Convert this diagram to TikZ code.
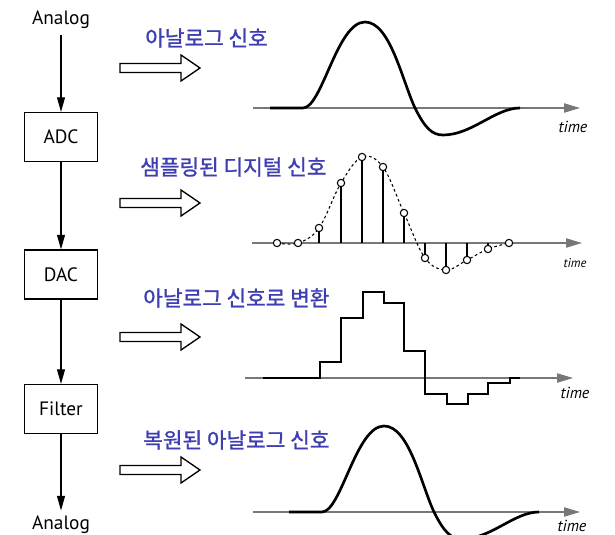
\documentclass[tikz,border=0pt]{standalone}
\usepackage{fontspec}
\setmainfont{PT Sans}
\newfontfamily\krfont{Noto Sans CJK KR}[FakeBold=1.2]
\definecolor{labelblue}{RGB}{62, 62, 178}
\definecolor{axisgray}{RGB}{120, 120, 120}
\usetikzlibrary{arrows.meta, positioning}
\tikzset{
    block/.style={
        rectangle, draw=black, line width=1.1pt,
        minimum width=54.75pt, minimum height=36.5pt,
        font=\fontsize{14.5}{16}\selectfont
    },
    io/.style={font=\fontsize{14.5}{16}\selectfont, inner sep=4pt},
    flow/.style={-{Triangle[length=11pt, width=6pt]}, line width=0.9pt},
    hollow/.style={draw=black, fill=white, line width=1pt, line join=miter},
    axis/.style={-{Triangle[length=12pt, width=7pt]}, draw=axisgray, line width=0.8pt},
    signal/.style={line width=2pt, line join=miter},
    stem/.style={line width=2pt},
    sampled/.style={line width=0.8pt, dash pattern=on 2pt off 2pt},
    dot/.style={circle, draw=black, fill=white, line width=0.8pt, inner sep=0pt, minimum size=5.5pt},
    lbl/.style={anchor=west, text=labelblue, font=\krfont\fontsize{16}{18}\selectfont, inner sep=0pt},
    tlbl/.style={font=\itshape\fontsize{12}{14}\selectfont, inner sep=0pt}
}

\begin{document}
\begin{tikzpicture}[x=0.75pt, y=-0.75pt]
    \useasboundingbox (0,0) rectangle (615,535);

    % processing chain
    \node[io] (in) at (61,20) {Analog};
    \node[block] (adc) at (61,137) {ADC};
    \node[block] (dac) at (61,274.5) {DAC};
    \node[block] (filter) at (61,409) {Filter};
    \node[io] (out) at (61,525) {Analog};
    \draw[flow] (in) -- (adc);
    \draw[flow] (adc) -- (dac);
    \draw[flow] (dac) -- (filter);
    \draw[flow] (filter) -- (out);

    % hollow arrows
    \foreach \y in {68,203,337,470}
        \draw[hollow] (120,\y-4.5) -- (181,\y-4.5) -- (181,\y-13) -- (200,\y)
            -- (181,\y+13) -- (181,\y+4.5) -- (120,\y+4.5) -- cycle;

    % labels
    \node[lbl] (l1) at (145,38) {아날로그 신호};
    \node[lbl] (l2) at (140,167) {샘플링된 디지털 신호};
    \node[lbl] (l3) at (143,298) {아날로그 신호로 변환};
    \node[lbl] (l4) at (143,440) {복원된 아날로그 신호};

    % analog signal
    \draw[axis] (253,108) -- (580,108);
    \draw[signal] (270,108) -- (303,108)
        .. controls (322,108) and (337,22) .. (365,22)
        .. controls (390,22) and (402,80) .. (415,108)
        .. controls (425,128) and (432,135) .. (443,135)
        .. controls (472,135) and (495,108) .. (520,108);
    \node[tlbl] (t1) at (573,127) {time};

    % sampled signal
    \draw[axis] (252,243) -- (582,243);
    \draw[sampled] plot[smooth, tension=0.6] coordinates {(277,243) (298,243) (319,228) (341,183)
        (362,157) (383,167) (404,213) (425,258) (446,270) (467,260) (488,249) (509,243)};
    \foreach \x/\y in {319/228, 341/183, 362/157, 383/167, 404/213, 425/258, 446/270, 467/260, 488/249}
        \draw[stem] (\x,243) -- (\x,\y);
    \foreach \x/\y in {277/243, 298/243, 319/228, 341/183, 362/157, 383/167, 404/213,
        425/258, 446/270, 467/260, 488/249, 509/243}
        \node[dot] at (\x,\y) {};
    \node[tlbl, font=\itshape\fontsize{9.5}{11}\selectfont] (t2) at (575,263) {time};

    % reconstructed staircase
    \draw[axis] (245,378) -- (573,378);
    \draw[signal] (263,378) -| (320,362) -| (341,318) -| (363,292) -| (384,303) -| (404,351)
        -| (425,394) -| (447,404) -| (468,394) -| (488,383) -| (510,378) -- (520,378);
    \node[tlbl] (t3) at (575,393) {time};

    % filtered signal
    \draw[axis] (253,512) -- (580,512);
    \begin{scope}[shift={(19,404)}]
        \draw[signal] (270,108) -- (303,108)
            .. controls (322,108) and (337,22) .. (365,22)
            .. controls (390,22) and (402,80) .. (415,108)
            .. controls (425,128) and (432,135) .. (443,135)
            .. controls (472,135) and (495,108) .. (520,108);
    \end{scope}
    \node[tlbl] (t4) at (572,526) {time};
\end{tikzpicture}
\end{document}
